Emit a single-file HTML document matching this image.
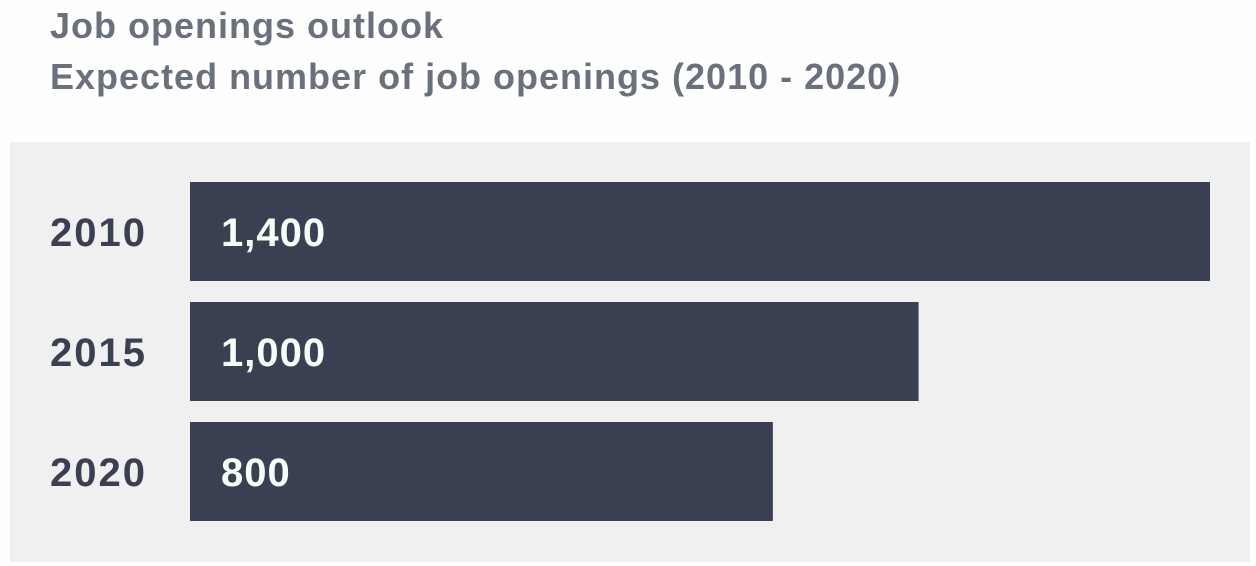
<!DOCTYPE html>
<html><head><meta charset="utf-8"><style>
body{margin:0;width:1256px;height:566px;background:#fefefe;font-family:"Liberation Sans",sans-serif;overflow:hidden;position:relative}
.t{position:absolute;left:50px;color:#6b717c;font-size:36px;font-weight:bold;letter-spacing:1px;white-space:nowrap}
</style></head><body>
<div class="t" style="top:5px">Job openings outlook</div>
<div class="t" style="top:56px">Expected number of job openings (2010 - 2020)</div>
<svg width="1256" height="566" style="position:absolute;left:0;top:0" id="chart">
<rect x="10" y="142" width="1240" height="420" fill="#eff0ef"/>
</svg>
<script>
const categories=["2010","2015","2020"];
const values=[1400,1000,800];
const valueLabels=["1,400","1,000","800"];
const svg=document.getElementById('chart');
const NS='http://www.w3.org/2000/svg';
const x0=190, maxV=1400, maxW=1020;
function xs(v){return v/maxV*maxW;}
function ys(i){return 182+i*120;}
categories.forEach((c,i)=>{
 const r=document.createElementNS(NS,'rect');
 r.setAttribute('x',x0);r.setAttribute('y',ys(i));
 r.setAttribute('width',xs(values[i]));r.setAttribute('height',99);
 r.setAttribute('fill','#3a4052');
 
 
 svg.appendChild(r);
 const y=document.createElementNS(NS,'text');
 y.setAttribute('x',50);y.setAttribute('y',ys(i)+64);
 y.setAttribute('font-size','40');y.setAttribute('font-weight','bold');
 y.setAttribute('letter-spacing','2');
 y.setAttribute('fill','#3a4052');y.textContent=c;
 
 
 svg.appendChild(y);
 const v=document.createElementNS(NS,'text');
 v.setAttribute('x',221);v.setAttribute('y',ys(i)+64);
 v.setAttribute('font-size','40');v.setAttribute('font-weight','bold');
 v.setAttribute('letter-spacing','1');
 v.setAttribute('fill','#f4fff8');v.textContent=valueLabels[i];
 
 
 svg.appendChild(v);
});
</script>
</body></html>
